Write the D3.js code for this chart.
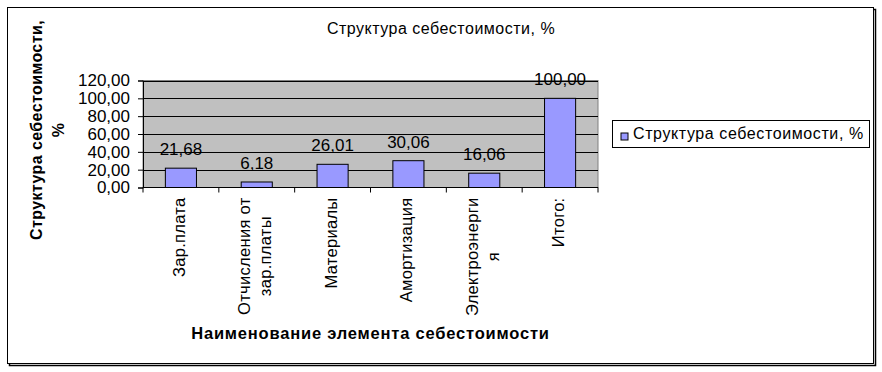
<!DOCTYPE html>
<html>
<head>
<meta charset="utf-8">
<script src="https://cdn.jsdelivr.net/npm/d3@7"></script>
<style>
  body { margin: 0; background: #fff; }
  text { font-family: "Liberation Sans", Arial, sans-serif; fill: #000; }
</style>
</head>
<body>
<svg id="chart" width="882" height="372"></svg>
<script>
// ----------------
// Data
// ----------------
const categories = [
  ["Зар.плата"],
  ["Отчисления от", "зар.платы"],
  ["Материалы"],
  ["Амортизация"],
  ["Электроэнерги", "я"],
  ["Итого:"]
];
const values = [21.68, 6.18, 26.01, 30.06, 16.06, 100.00];
const yTicks = [0, 20, 40, 60, 80, 100, 120];
const seriesName = "Структура себестоимости, %";

// ----------------
// Constants
// ----------------
const plot = {left: 143, right: 598, top: 80.5, bottom: 187.5};
const barColor = "#9999ff";
const fmt = d => d3.format(".2f")(d).replace(".", ",");

const svg = d3.select("#chart");

// outer frame with shadow
svg.append("rect")
  .attr("x", 9.5).attr("y", 9.5).attr("width", 866).attr("height", 356)
  .attr("fill", "none").attr("stroke", "#000").attr("stroke-width", 1.5);
svg.append("rect")
  .attr("x", 7.5).attr("y", 7.5).attr("width", 866).attr("height", 356)
  .attr("fill", "#fff").attr("stroke", "#000");

var x = d3.scaleBand()
  .domain(d3.range(categories.length))
  .range([plot.left, plot.right]);

var y = d3.scaleLinear()
  .domain([0, 120])
  .range([plot.bottom, plot.top]);

// plot background
svg.append("rect")
  .attr("x", plot.left).attr("y", plot.top)
  .attr("width", plot.right - plot.left).attr("height", plot.bottom - plot.top)
  .attr("fill", "#c0c0c0").attr("stroke", "#808080");

// gridlines
svg.append("g")
  .selectAll("line")
  .data(yTicks.filter(d => d > 0))
  .enter().append("line")
    .attr("x1", plot.left).attr("x2", plot.right)
    .attr("y1", d => Math.round(y(d)) + 0.5).attr("y2", d => Math.round(y(d)) + 0.5)
    .attr("stroke", "#000");

// bars
var bw = x.bandwidth() * 0.41;
svg.append("g")
  .selectAll("rect")
  .data(values)
  .enter().append("rect")
    .attr("x", (d, i) => x(i) + x.bandwidth() / 2 - bw / 2)
    .attr("y", d => y(d))
    .attr("width", bw)
    .attr("height", d => y(0) - y(d))
    .attr("fill", barColor)
    .attr("stroke", "#000");

// data labels
svg.append("g")
  .selectAll("text")
  .data(values)
  .enter().append("text")
    .attr("x", (d, i) => x(i) + x.bandwidth() / 2)
    .attr("y", d => y(d) - 13)
    .attr("text-anchor", "middle")
    .style("font-size", "17px")
    .text(fmt);

// y axis
var yAxis = svg.append("g")
  .attr("transform", "translate(" + plot.left + ",0)")
  .call(d3.axisLeft(y).tickValues(yTicks).tickFormat(fmt).tickSize(5).tickPadding(8));
yAxis.select(".domain").attr("stroke", "#000");
yAxis.selectAll("text").style("font-size", "17px")
  .style("font-family", "'Liberation Sans', Arial, sans-serif");

// x axis
var xAxis = svg.append("g")
  .attr("transform", "translate(0," + plot.bottom + ")");
xAxis.append("line")
  .attr("x1", plot.left).attr("x2", plot.right)
  .attr("stroke", "#000");
xAxis.selectAll(".tick")
  .data(d3.range(categories.length + 1))
  .enter().append("line")
    .attr("x1", i => i < categories.length ? x(i) : plot.right)
    .attr("x2", i => i < categories.length ? x(i) : plot.right)
    .attr("y1", 0).attr("y2", 5)
    .attr("stroke", "#000");

// category labels, rotated; lines centred on each other, block hangs from the axis
var lineH = 21;
svg.append("g")
  .selectAll("text")
  .data(categories)
  .enter().append("text")
    .attr("transform", (d, i) => "translate(" + (x(i) + x.bandwidth() / 2) + "," + (plot.bottom + 10) + ") rotate(-90)")
    .attr("text-anchor", "middle")
    .style("font-size", "16.5px")
    .style("letter-spacing", "0.3px")
    .each(function(lines) {
      var t = d3.select(this);
      var spans = lines.map(function(l, j) {
        return t.append("tspan")
          .attr("y", (j - (lines.length - 1) / 2) * lineH + 4)
          .text(l);
      });
      var maxLen = d3.max(spans, s => s.node().getComputedTextLength());
      spans.forEach(s => s.attr("x", -maxLen / 2));
    });

// title
svg.append("text")
  .attr("x", 441).attr("y", 34)
  .attr("text-anchor", "middle")
  .style("font-size", "16px")
  .style("letter-spacing", "0.5px")
  .text(seriesName);

// y title
svg.append("text")
  .attr("transform", "translate(47,130) rotate(-90)")
  .attr("text-anchor", "middle")
  .style("font-size", "16px").style("font-weight", "bold")
  .style("letter-spacing", "0.4px")
  .selectAll("tspan")
  .data(["Структура себестоимости,", "%"])
  .enter().append("tspan")
    .attr("x", 0)
    .attr("y", (d, i) => (i - 0.5) * 22)
    .attr("dy", "0.35em")
    .text(d => d);

// x title
svg.append("text")
  .attr("x", (plot.left + plot.right) / 2).attr("y", 339)
  .attr("text-anchor", "middle")
  .style("font-size", "16.5px").style("font-weight", "bold")
  .style("letter-spacing", "0.8px")
  .text("Наименование элемента себестоимости");

// legend
var legend = svg.append("g").attr("transform", "translate(612,120)");
legend.append("rect")
  .attr("x", 0.5).attr("y", 0.5).attr("width", 257).attr("height", 27)
  .attr("fill", "#fff").attr("stroke", "#000");
legend.append("rect")
  .attr("x", 9).attr("y", 13).attr("width", 7).attr("height", 7)
  .attr("fill", barColor).attr("stroke", "#000");
legend.append("text")
  .attr("x", 21).attr("y", 19)
  .style("font-size", "16px")
  .style("letter-spacing", "0.6px")
  .text(seriesName);
</script>
</body>
</html>
